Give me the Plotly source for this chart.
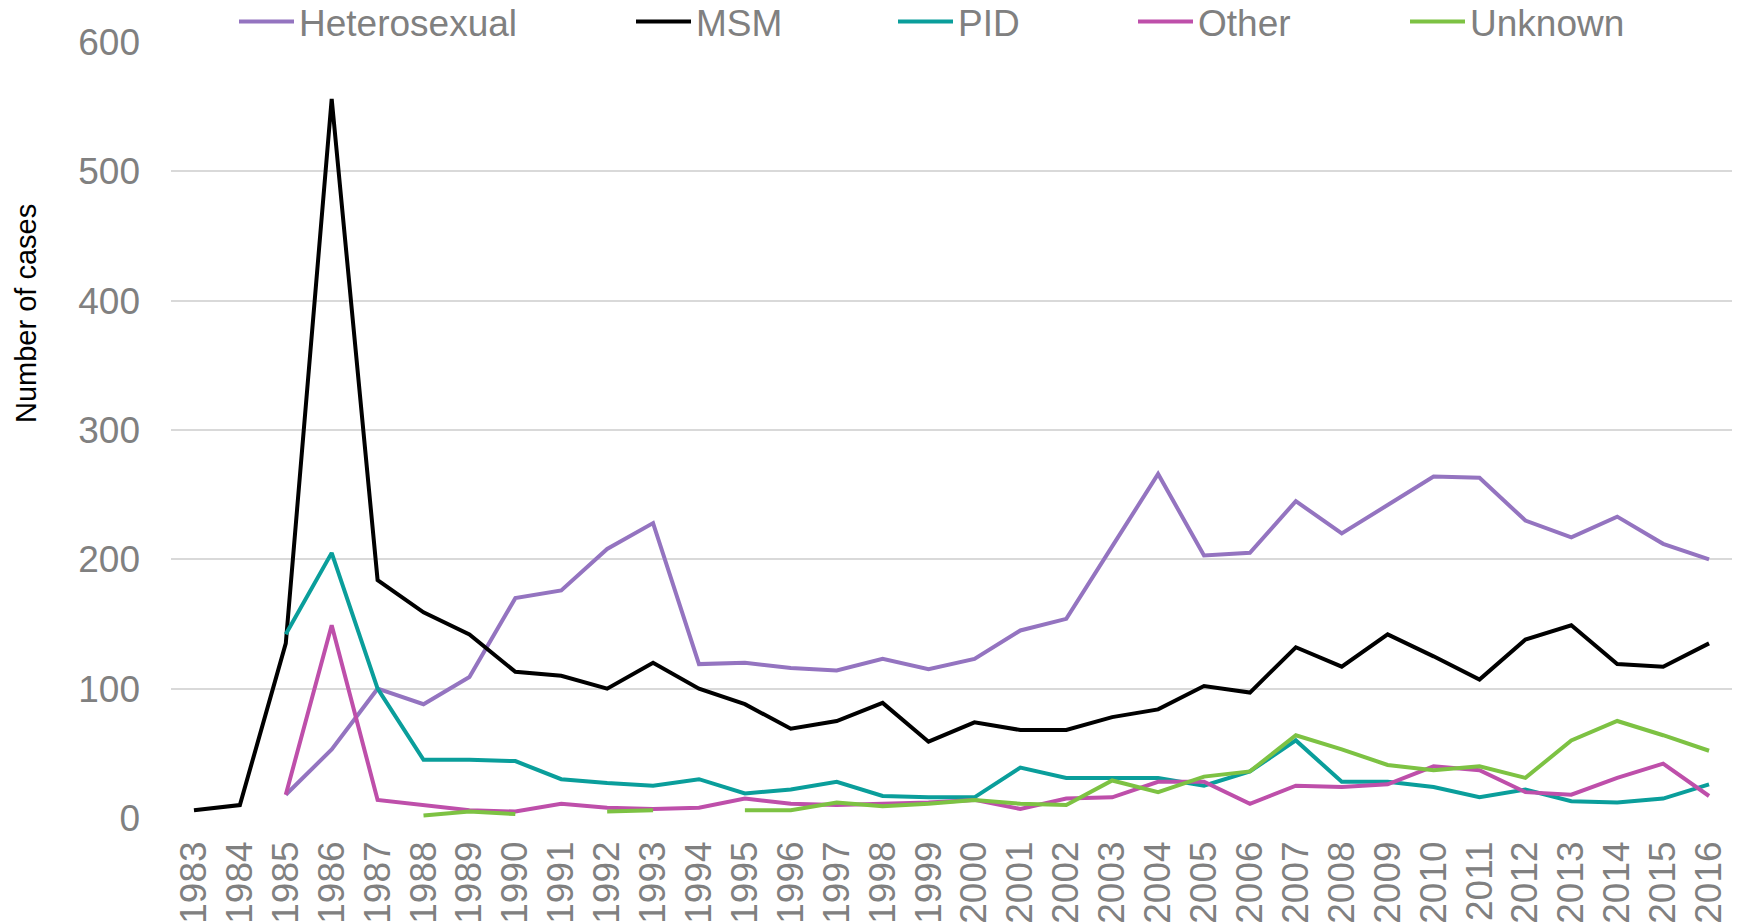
import plotly.graph_objects as go

# HIV diagnoses by exposure category, 1983-2016
years = [str(y) for y in range(1983, 2017)]

heterosexual = [None, None, 18, 53, 100, 88, 109, 170, 176, 208, 228, 119, 120, 116, 114, 123, 115,
                123, 145, 154, 210, 266, 203, 205, 245, 220, 242, 264, 263, 230, 217, 233, 212, 200]
msm = [6, 10, 135, 556, 184, 159, 142, 113, 110, 100, 120, 100, 88, 69, 75, 89, 59,
       74, 68, 68, 78, 84, 102, 97, 132, 117, 142, 125, 107, 138, 149, 119, 117, 135]
pid = [None, None, 142, 205, 100, 45, 45, 44, 30, 27, 25, 30, 19, 22, 28, 17, 16,
       16, 39, 31, 31, 31, 25, 36, 60, 28, 28, 24, 16, 22, 13, 12, 15, 26]
other = [None, None, 18, 149, 14, 10, 6, 5, 11, 8, 7, 8, 15, 11, 10, 11, 12,
         14, 7, 15, 16, 28, 28, 11, 25, 24, 26, 40, 37, 20, 18, 31, 42, 17]
unknown = [None, None, None, None, None, 2, 5, 3, None, 5, 6, None, 6, 6, 12, 9, 11,
           14, 11, 10, 29, 20, 32, 36, 64, 53, 41, 37, 40, 31, 60, 75, 64, 52]

series_names = ["Heterosexual", "MSM", "PID", "Other", "Unknown"]
series_values = [heterosexual, msm, pid, other, unknown]
colours = ["#9474C0", "#000000", "#0A9E9B", "#BE4FAA", "#7DC243"]

W, H = 1742, 924
OFF = 8  # the page body has an 8px margin, so the figure starts at (8, 8)
# plot area in window pixels
PL, PR, PT, PB = 171, 1732, 42, 818
FONT = "Arial, Liberation Sans, sans-serif"
GREY = "#808080"

# left edge (px) of each legend entry, Excel spreads them out unevenly
legend_px = [234, 631, 893, 1133, 1405]

fig = go.Figure()

for i, (name, vals, col) in enumerate(zip(series_names, series_values, colours)):
    leg = "legend" if i == 0 else "legend%d" % (i + 1)
    fig.add_trace(go.Scatter(x=years, y=vals, name=name, mode="lines",
                             line=dict(color=col, width=4),
                             connectgaps=False, legend=leg))

legends = {}
for i, px in enumerate(legend_px):
    key = "legend" if i == 0 else "legend%d" % (i + 1)
    legends[key] = dict(xref="paper", yref="paper",
                        x=(px - PL) / (PR - PL), y=(PB - 22) / (PB - PT),
                        xanchor="left", yanchor="middle",
                        orientation="h", bgcolor="rgba(0,0,0,0)",
                        font=dict(family=FONT, size=37, color=GREY),
                        itemwidth=55)

fig.update_layout(
    width=W - OFF, height=H - OFF,
    margin=dict(l=PL - OFF, r=W - PR, t=PT - OFF, b=H - PB, autoexpand=False),
    paper_bgcolor="white", plot_bgcolor="white",
    showlegend=True,
    **legends,
)

# categories sit in the middle of their slots, like Excel
fig.update_xaxes(type="category", range=[-0.5, len(years) - 0.5], tickangle=-90,
                 showgrid=False, showline=False, ticks="", ticklabelstandoff=15,
                 automargin=False, tickfont=dict(family=FONT, size=37, color=GREY))
fig.update_yaxes(range=[0, 600], dtick=100, showgrid=True, gridcolor="#D9D9D9",
                 gridwidth=2, zeroline=False, showline=False, ticks="",
                 ticklabelstandoff=30, automargin=False,
                 tickfont=dict(family=FONT, size=37, color=GREY))

fig.add_annotation(text="Number of cases", textangle=-90, showarrow=False,
                   xref="paper", yref="paper",
                   x=(26 - PL) / (PR - PL), y=(PB - 314) / (PB - PT),
                   xanchor="center", yanchor="middle",
                   font=dict(family=FONT, size=29, color="#000000"))

fig.write_html("out.html")
